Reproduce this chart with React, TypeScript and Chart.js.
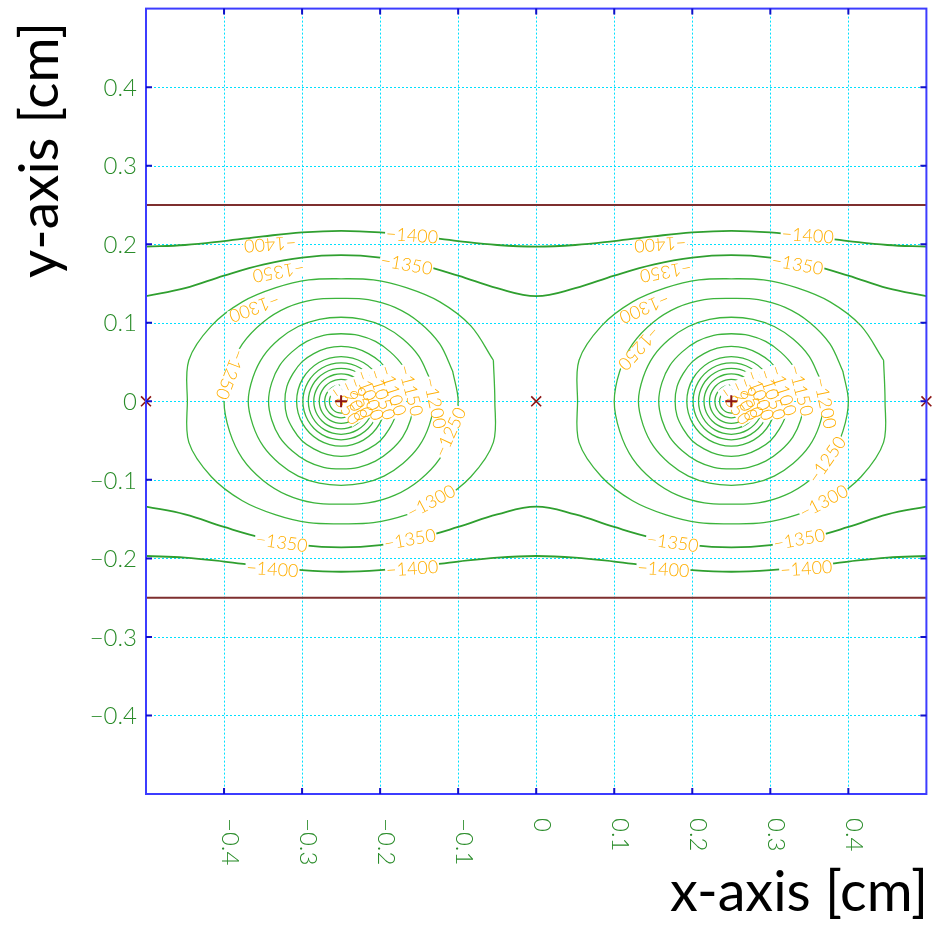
import React, { useEffect, useRef } from "react";
import { Chart, registerables } from "chart.js";

Chart.register(...registerables);

// ---------------- data ----------------
const X_TICKS = [-0.4, -0.3, -0.2, -0.1, 0, 0.1, 0.2, 0.3, 0.4];
const X_TICK_LABELS = ["−0.4", "−0.3", "−0.2", "−0.1", "0", "0.1", "0.2", "0.3", "0.4"];
const Y_TICKS = [0.4, 0.3, 0.2, 0.1, 0, -0.1, -0.2, -0.3, -0.4];
const Y_TICK_LABELS = ["0.4", "0.3", "0.2", "0.1", "0", "−0.1", "−0.2", "−0.3", "−0.4"];
const X_TITLE = "x-axis [cm]";
const Y_TITLE = "y-axis [cm]";

// wires and planes (cm)
const SENSE_WIRES_X = [-0.25, 0.25]; // "+" at y = 0
const FIELD_WIRES_X = [-0.5, 0, 0.5]; // "×" at y = 0
const PLANES_Y = [0.25, -0.25];

// open (periodic) contours across the cell
const LINE_X = [-0.5, -0.45, -0.4, -0.35, -0.3, -0.25, -0.2, -0.15, -0.1, -0.05, 0, 0.05, 0.1, 0.15, 0.2, 0.25, 0.3, 0.35, 0.4, 0.45, 0.5];
const C1400_TOP = [0.197, 0.199, 0.204, 0.210, 0.215, 0.217, 0.215, 0.210, 0.204, 0.199, 0.197, 0.199, 0.204, 0.210, 0.215, 0.217, 0.215, 0.210, 0.204, 0.199, 0.197];
const C1350_TOP = [0.134, 0.144, 0.160, 0.174, 0.183, 0.186, 0.183, 0.174, 0.160, 0.144, 0.134, 0.144, 0.160, 0.174, 0.183, 0.186, 0.183, 0.174, 0.160, 0.144, 0.134];
const C1350_BOT = [-0.134, -0.144, -0.160, -0.174, -0.183, -0.186, -0.183, -0.174, -0.160, -0.144, -0.134, -0.144, -0.160, -0.174, -0.183, -0.186, -0.183, -0.174, -0.160, -0.144, -0.134];
const C1400_BOT = [-0.197, -0.199, -0.204, -0.210, -0.215, -0.217, -0.215, -0.210, -0.204, -0.199, -0.197, -0.199, -0.204, -0.210, -0.215, -0.217, -0.215, -0.210, -0.204, -0.199, -0.197];

// closed contours around each sense wire: radius (cm) read at these angles (deg),
// the other quadrants are mirror images
const RING_ANGLES = [0, 15, 30, 45, 60, 75, 90];
const RING_LEVELS = [-1300, -1250, -1200, -1150, -1100, -1050, -1000, -950, -900, -850, -800, -750];
const RING_RADII = [
  [0.197, 0.202, 0.192, 0.179, 0.167, 0.160, 0.156],
  [0.150, 0.148, 0.146, 0.142, 0.138, 0.134, 0.131],
  [0.119, 0.117, 0.115, 0.112, 0.110, 0.108, 0.107],
  [0.093, 0.092, 0.091, 0.089, 0.088, 0.087, 0.086],
  [0.072, 0.072, 0.071, 0.071, 0.070, 0.070, 0.070],
  [0.057, 0.057, 0.057, 0.057, 0.057, 0.057, 0.057],
  [0.049, 0.049, 0.049, 0.049, 0.049, 0.049, 0.049],
  [0.042, 0.042, 0.042, 0.042, 0.042, 0.042, 0.042],
  [0.035, 0.035, 0.035, 0.035, 0.035, 0.035, 0.035],
  [0.028, 0.028, 0.028, 0.028, 0.028, 0.028, 0.028],
  [0.021, 0.021, 0.021, 0.021, 0.021, 0.021, 0.021],
  [0.015, 0.015, 0.015, 0.015, 0.015, 0.015, 0.015],
];

// contour labels: [text, x (cm), y (cm), rotation (deg)]
const CONTOUR_LABELS: [string, number, number, number][] = [
  ["−1400", -0.341, 0.199, 176],
  ["−1400", -0.159, 0.212, 4],
  ["−1350", -0.330, 0.164, 170],
  ["−1350", -0.166, 0.175, 10],
  ["−1300", -0.361, 0.118, 160],
  ["−1250", -0.391, 0.034, 111],
  ["−1250", -0.111, -0.039, -65],
  ["−1300", -0.135, -0.127, -28],
  ["−1350", -0.326, -0.179, 8],
  ["−1350", -0.162, -0.175, -10],
  ["−1400", -0.338, -0.213, 4],
  ["−1400", -0.159, -0.212, -4],
  ["−1200", -0.129, -0.002, 78],
  ["−1150", -0.160, 0.014, 75],
  ["−1100", -0.183, 0.014, 72],
  ["−1050", -0.197, 0.009, 72],
  ["−1000", -0.213, 0.008, 70],
  ["−950", -0.224, 0.005, 70],
  ["−900", -0.233, 0.001, 65],
  ["−850", -0.245, -0.005, 55],
  ["−1400", 0.159, 0.199, 176],
  ["−1400", 0.348, 0.212, 4],
  ["−1350", 0.166, 0.164, 170],
  ["−1350", 0.335, 0.175, 10],
  ["−1300", 0.139, 0.118, 157],
  ["−1250", 0.132, 0.067, 132],
  ["−1250", 0.372, -0.074, -55],
  ["−1300", 0.368, -0.127, -28],
  ["−1350", 0.175, -0.179, 8],
  ["−1350", 0.337, -0.175, -10],
  ["−1400", 0.163, -0.213, 4],
  ["−1400", 0.346, -0.212, -4],
  ["−1200", 0.371, -0.002, 78],
  ["−1150", 0.340, 0.014, 75],
  ["−1100", 0.317, 0.014, 72],
  ["−1050", 0.303, 0.009, 72],
  ["−1000", 0.287, 0.008, 70],
  ["−950", 0.276, 0.005, 70],
  ["−900", 0.267, 0.001, 65],
  ["−850", 0.255, -0.005, 55],
];

// ---------------- styles ----------------
const W = 935;
const H = 929;
const GREEN_LINE = "#2f9f2f";
const GREEN_RING = "#3cb43c";
const LABEL_COLOR = "#ffae00";
const TICK_COLOR = "#2a8c2a";
const FRAME_COLOR = "#3c3cff";
const TICKMARK_COLOR = "#1010c8";
const GRID_COLOR = "#00e0ff";
const WIRE_COLOR = "#8b1414";
const PLANE_COLOR = "#7e2f2f";
const GRID_STEPS = [-0.4, -0.3, -0.2, -0.1, 0, 0.1, 0.2, 0.3, 0.4];

function ringPoints(cx: number, radii: number[]) {
  const pts: { x: number; y: number }[] = [];
  for (let k = 0; k <= 24; k++) {
    const a = (15 + 15 * k) % 360;
    let q = a % 180;
    if (q > 90) q = 180 - q;
    const r = radii[RING_ANGLES.indexOf(q)];
    const rad = (a * Math.PI) / 180;
    pts.push({ x: cx + r * Math.cos(rad), y: r * Math.sin(rad) });
  }
  return pts;
}

function lineData(ys: number[]) {
  return LINE_X.map((x, i) => ({ x, y: ys[i] }));
}

const overlay = {
  id: "overlay",
  beforeDatasetsDraw(chart: any) {
    const { ctx, chartArea: a } = chart;
    const xs = chart.scales.x;
    const ys = chart.scales.y;
    ctx.save();
    ctx.strokeStyle = GRID_COLOR;
    ctx.lineWidth = 1;
    ctx.setLineDash([2, 2]);
    ctx.beginPath();
    for (const v of GRID_STEPS) {
      const px = Math.round(xs.getPixelForValue(v)) + 0.5;
      ctx.moveTo(px, a.top);
      ctx.lineTo(px, a.bottom);
      const py = Math.round(ys.getPixelForValue(v)) + 0.5;
      ctx.moveTo(a.left, py);
      ctx.lineTo(a.right, py);
    }
    ctx.stroke();
    ctx.restore();
  },
  beforeDatasetDraw(chart: any, args: any) {
    if (chart.data.datasets[args.index].label !== "field wires") return;
    const { ctx, chartArea: a } = chart;
    const xs = chart.scales.x;
    const ys = chart.scales.y;
    ctx.save();
    ctx.beginPath();
    ctx.rect(a.left, a.top, a.right - a.left, a.bottom - a.top);
    ctx.clip();
    ctx.font = "300 18px Lato, 'DejaVu Sans', sans-serif";
    const items = CONTOUR_LABELS.map(([t, x, y, rot]) => ({
      t,
      px: xs.getPixelForValue(x),
      py: ys.getPixelForValue(y),
      rot: (rot * Math.PI) / 180,
      w: ctx.measureText(t).width,
    }));
    ctx.fillStyle = "#ffffff";
    for (const it of items) {
      ctx.save();
      ctx.translate(it.px, it.py);
      ctx.rotate(it.rot);
      ctx.fillRect(-it.w / 2 - 1, -6.5, it.w + 2, 13);
      ctx.restore();
    }
    ctx.fillStyle = LABEL_COLOR;
    ctx.textAlign = "center";
    ctx.textBaseline = "middle";
    for (const it of items) {
      ctx.save();
      ctx.translate(it.px, it.py);
      ctx.rotate(it.rot);
      ctx.fillText(it.t, 0, 1);
      ctx.restore();
    }
    ctx.restore();
  },
  afterDraw(chart: any) {
    const { ctx, chartArea: a } = chart;
    const xs = chart.scales.x;
    const ys = chart.scales.y;
    ctx.save();
    // frame
    ctx.strokeStyle = FRAME_COLOR;
    ctx.lineWidth = 2;
    ctx.strokeRect(a.left, a.top, a.right - a.left, a.bottom - a.top);
    // inward tick marks
    ctx.strokeStyle = TICKMARK_COLOR;
    ctx.lineWidth = 2;
    ctx.beginPath();
    for (const v of X_TICKS) {
      const px = xs.getPixelForValue(v);
      ctx.moveTo(px, a.bottom);
      ctx.lineTo(px, a.bottom - 6);
      ctx.moveTo(px, a.top);
      ctx.lineTo(px, a.top + 6);
    }
    for (const v of Y_TICKS) {
      const py = ys.getPixelForValue(v);
      ctx.moveTo(a.left, py);
      ctx.lineTo(a.left + 6, py);
      ctx.moveTo(a.right, py);
      ctx.lineTo(a.right - 6, py);
    }
    ctx.stroke();
    // tick labels
    ctx.fillStyle = TICK_COLOR;
    ctx.font = "300 24px Lato, 'DejaVu Sans', sans-serif";
    ctx.textAlign = "right";
    ctx.textBaseline = "middle";
    Y_TICKS.forEach((v, i) => {
      ctx.fillText(Y_TICK_LABELS[i], a.left - 9, ys.getPixelForValue(v) + 1);
    });
    ctx.textAlign = "left";
    ctx.textBaseline = "alphabetic";
    X_TICKS.forEach((v, i) => {
      ctx.save();
      ctx.translate(xs.getPixelForValue(v) - 2, a.bottom + 24);
      ctx.rotate(Math.PI / 2);
      ctx.fillText(X_TICK_LABELS[i], 0, 0);
      ctx.restore();
    });
    // axis titles, sized to the reference width
    ctx.fillStyle = "#000000";
    ctx.font = "400 100px Lato, sans-serif";
    const fx = (100 * 258) / ctx.measureText(X_TITLE).width;
    const fy = (100 * 256) / ctx.measureText(Y_TITLE).width;
    ctx.font = `400 ${fx}px Lato, sans-serif`;
    ctx.textAlign = "right";
    ctx.fillText(X_TITLE, 928, 911);
    ctx.save();
    ctx.font = `400 ${fy}px Lato, sans-serif`;
    ctx.translate(58, 150);
    ctx.rotate(-Math.PI / 2);
    ctx.textAlign = "center";
    ctx.fillText(Y_TITLE, 0, 0);
    ctx.restore();
    ctx.restore();
  },
};

export default function App() {
  const ref = useRef<HTMLCanvasElement | null>(null);
  useEffect(() => {
    if (!ref.current) return;
    const datasets: any[] = [];
    const lineBase = {
      showLine: true,
      pointRadius: 0,
      fill: false,
      order: 2,
    };
    [C1400_TOP, C1350_TOP, C1350_BOT, C1400_BOT].forEach((ys) => {
      datasets.push({
        ...lineBase,
        label: "open contour",
        data: lineData(ys),
        borderColor: GREEN_LINE,
        borderWidth: 1.8,
        tension: 0.4,
      });
    });
    SENSE_WIRES_X.forEach((cx) => {
      RING_LEVELS.forEach((lv, i) => {
        datasets.push({
          ...lineBase,
          label: `ring ${lv}`,
          data: ringPoints(cx, RING_RADII[i]),
          borderColor: GREEN_RING,
          borderWidth: 1.3,
          tension: 0.34,
        });
      });
    });
    PLANES_Y.forEach((py) => {
      datasets.push({
        ...lineBase,
        label: "plane",
        data: [
          { x: -0.5, y: py },
          { x: 0.5, y: py },
        ],
        borderColor: PLANE_COLOR,
        borderWidth: 2,
        tension: 0,
      });
    });
    datasets.push({
      label: "field wires",
      data: FIELD_WIRES_X.map((x) => ({ x, y: 0 })),
      showLine: false,
      pointStyle: "crossRot",
      pointRadius: 7,
      borderColor: WIRE_COLOR,
      borderWidth: 1.6,
      clip: false,
      order: 1,
    });
    datasets.push({
      label: "sense wires",
      data: SENSE_WIRES_X.map((x) => ({ x, y: 0 })),
      showLine: false,
      pointStyle: "cross",
      pointRadius: 6,
      borderColor: WIRE_COLOR,
      borderWidth: 2,
      clip: false,
      order: 0,
    });

    const axis = (fit: (s: any) => void) => ({
      type: "linear" as const,
      min: -0.5,
      max: 0.5,
      ticks: { stepSize: 0.1, display: false },
      grid: { display: false },
      border: { display: false },
      afterFit: fit,
    });

    const chart = new Chart(ref.current, {
      type: "scatter",
      data: { datasets },
      options: {
        animation: false,
        responsive: false,
        maintainAspectRatio: false,
        devicePixelRatio: 1,
        events: [],
        layout: { padding: { top: 6, right: 2, left: 0, bottom: 0 } },
        plugins: { legend: { display: false }, tooltip: { enabled: false } },
        scales: {
          x: axis((s: any) => {
            s.height = 135;
          }),
          y: axis((s: any) => {
            s.width = 146;
          }),
        },
      } as any,
      plugins: [overlay],
    });
    return () => chart.destroy();
  }, []);

  return (
    <div style={{ position: "absolute", left: 0, top: 0, width: W, height: H, background: "#fff" }}>
      <canvas ref={ref} width={W} height={H} style={{ display: "block", width: W, height: H }} />
    </div>
  );
}
